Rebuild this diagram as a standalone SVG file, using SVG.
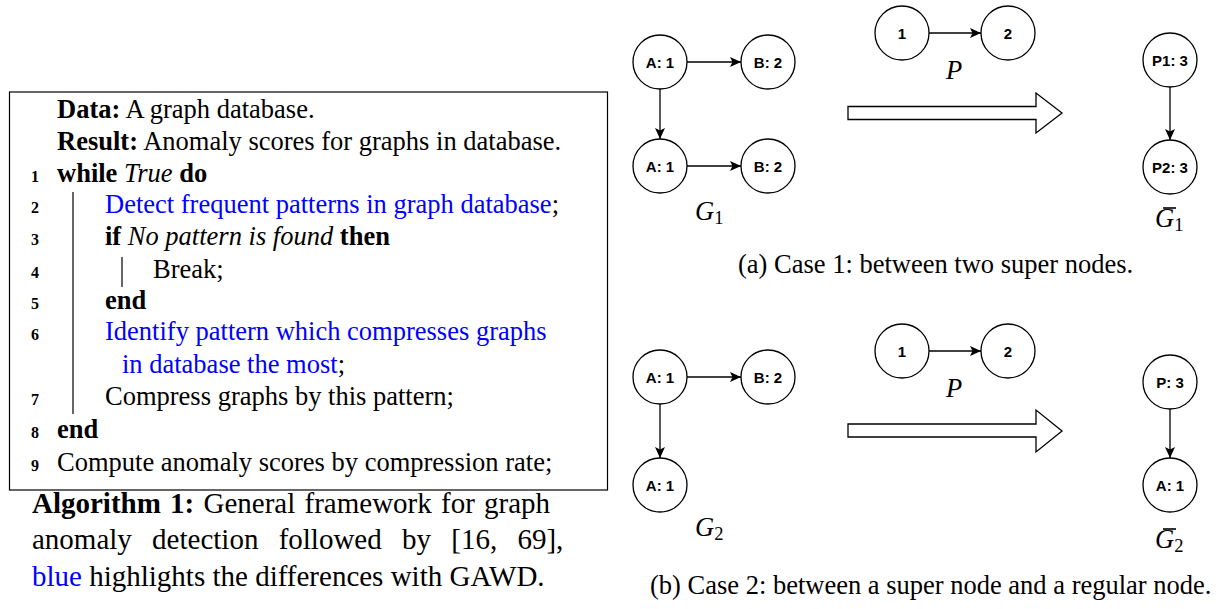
<svg xmlns="http://www.w3.org/2000/svg" width="1223" height="609" viewBox="0 0 1223 609">
<style>
.t{font-family:"Liberation Serif","Times New Roman",serif;font-size:26.5px;fill:#000}
.b{font-weight:bold}
.i{font-style:italic}
.blue{fill:#0000ff}
.ln{font-family:"Liberation Serif",serif;font-size:16px;font-weight:bold;fill:#000}
.cap{font-family:"Liberation Serif","Times New Roman",serif;font-size:29px;fill:#000}
.sub{font-family:"Liberation Serif","Times New Roman",serif;font-size:26.5px;fill:#000}
.node circle{fill:#fff;stroke:#000;stroke-width:1.3}
.node text{font-family:"Liberation Sans",Arial,sans-serif;font-size:15px;font-weight:bold;text-anchor:middle;fill:#000}
.math{font-family:"Liberation Serif","Times New Roman",serif;font-size:26.5px;font-style:italic;fill:#000}
.math .s{font-style:normal;font-size:18.5px}
.edge{stroke:#000;stroke-width:1.3;fill:none;marker-end:url(#ah)}
.big{fill:#fff;stroke:#000;stroke-width:1.3}
.bar{stroke:#000;stroke-width:1.2}
</style>
<defs>
<marker id="ah" markerWidth="12" markerHeight="10" viewBox="0 0 12 10" refX="11" refY="5" orient="auto" markerUnits="userSpaceOnUse">
<path d="M0,0 L11,5 L0,10 L2.5,5 Z" fill="#000"/>
</marker>
</defs>

<g id="algorithm">
<rect x="9.5" y="92" width="598" height="398" fill="#fff" stroke="#000" stroke-width="1.2"/>
<line class="bar" x1="73" y1="192" x2="73" y2="414"/>
<line class="bar" x1="122" y1="257" x2="122" y2="287"/>
<text class="t" x="57" y="118"><tspan class="b">Data:</tspan> A graph database.</text>
<text class="t" x="57" y="150"><tspan class="b">Result:</tspan> Anomaly scores for graphs in database.</text>
<text class="ln" x="31" y="182">1</text>
<text class="t" x="57" y="182"><tspan class="b">while</tspan> <tspan class="i">True</tspan> <tspan class="b">do</tspan></text>
<text class="ln" x="31" y="213">2</text>
<text class="t" x="105" y="213"><tspan class="blue">Detect frequent patterns in graph database</tspan>;</text>
<text class="ln" x="31" y="245">3</text>
<text class="t" x="105" y="245"><tspan class="b">if</tspan> <tspan class="i">No pattern is found</tspan> <tspan class="b">then</tspan></text>
<text class="ln" x="31" y="278">4</text>
<text class="t" x="153" y="278">Break;</text>
<text class="ln" x="31" y="309">5</text>
<text class="t b" x="105" y="309">end</text>
<text class="ln" x="31" y="340">6</text>
<text class="t blue" x="105" y="340">Identify pattern which compresses graphs</text>
<text class="t" x="122" y="373"><tspan class="blue">in database the most</tspan>;</text>
<text class="ln" x="31" y="405">7</text>
<text class="t" x="105" y="405">Compress graphs by this pattern;</text>
<text class="ln" x="31" y="438">8</text>
<text class="t b" x="57" y="438">end</text>
<text class="ln" x="31" y="471">9</text>
<text class="t" x="57" y="471">Compute anomaly scores by compression rate;</text>
</g>

<g id="algorithm-caption">
<text class="cap" x="32" y="513" word-spacing="2"><tspan class="b">Algorithm 1:</tspan> General framework for graph</text>
<text class="cap" x="32" y="549" word-spacing="13">anomaly detection followed by [16, 69],</text>
<text class="cap" x="32" y="586"><tspan class="blue">blue</tspan> highlights the differences with GAWD.</text>
</g>

<g id="connectors">
<line class="edge" x1="687" y1="62" x2="741" y2="62"/>
<line class="edge" x1="660" y1="89" x2="660" y2="139"/>
<line class="edge" x1="687" y1="166" x2="741" y2="166"/>
<line class="edge" x1="929" y1="33" x2="981" y2="33"/>
<line class="edge" x1="1170" y1="87" x2="1170" y2="140"/>
<polygon class="big" points="848,106.5 1036,106.5 1036,93 1062,113 1036,133 1036,119.5 848,119.5"/>
<line class="edge" x1="687" y1="377" x2="741" y2="377"/>
<line class="edge" x1="660" y1="404" x2="660" y2="458"/>
<line class="edge" x1="929" y1="351" x2="981" y2="351"/>
<line class="edge" x1="1170" y1="409" x2="1170" y2="458"/>
<polygon class="big" points="848,424 1036,424 1036,410 1062,431 1036,452 1036,437 848,437"/>
</g>

<g id="g1-a1" class="node"><circle cx="660" cy="62" r="27"/><text x="660" y="67.5">A: 1</text></g>
<g id="g1-b2" class="node"><circle cx="768" cy="62" r="27"/><text x="768" y="67.5">B: 2</text></g>
<g id="g1-a1b" class="node"><circle cx="660" cy="166" r="27"/><text x="660" y="171.5">A: 1</text></g>
<g id="g1-b2b" class="node"><circle cx="768" cy="166" r="27"/><text x="768" y="171.5">B: 2</text></g>
<g id="p1-n1" class="node"><circle cx="902" cy="33" r="27"/><text x="902" y="38.5">1</text></g>
<g id="p1-n2" class="node"><circle cx="1008" cy="33" r="27"/><text x="1008" y="38.5">2</text></g>
<g id="g1bar-p1" class="node"><circle cx="1170" cy="60" r="27"/><text x="1170" y="65.5">P1: 3</text></g>
<g id="g1bar-p2" class="node"><circle cx="1170" cy="167" r="27"/><text x="1170" y="172.5">P2: 3</text></g>

<g id="g2-a1" class="node"><circle cx="660" cy="377" r="27"/><text x="660" y="382.5">A: 1</text></g>
<g id="g2-b2" class="node"><circle cx="768" cy="377" r="27"/><text x="768" y="382.5">B: 2</text></g>
<g id="g2-a1b" class="node"><circle cx="660" cy="485" r="27"/><text x="660" y="490.5">A: 1</text></g>
<g id="p2-n1" class="node"><circle cx="902" cy="351" r="27"/><text x="902" y="356.5">1</text></g>
<g id="p2-n2" class="node"><circle cx="1008" cy="351" r="27"/><text x="1008" y="356.5">2</text></g>
<g id="g2bar-p" class="node"><circle cx="1170" cy="382" r="27"/><text x="1170" y="387.5">P: 3</text></g>
<g id="g2bar-a1" class="node"><circle cx="1170" cy="485" r="27"/><text x="1170" y="490.5">A: 1</text></g>

<g id="labels">
<text class="math" x="695" y="220">G<tspan class="s" dy="4">1</tspan></text>
<text class="math" x="946" y="79">P</text>
<text class="math" x="1155" y="227">G<tspan class="s" dy="4">1</tspan></text>
<line x1="1163" y1="208" x2="1176" y2="208" stroke="#000" stroke-width="1.6"/>
<text class="math" x="695" y="536">G<tspan class="s" dy="4">2</tspan></text>
<text class="math" x="946" y="397">P</text>
<text class="math" x="1155" y="548">G<tspan class="s" dy="4">2</tspan></text>
<line x1="1163" y1="529" x2="1176" y2="529" stroke="#000" stroke-width="1.6"/>
<text class="sub" x="738" y="273">(a) Case 1: between two super nodes.</text>
<text class="sub" x="650" y="594">(b) Case 2: between a super node and a regular node.</text>
</g>
</svg>
